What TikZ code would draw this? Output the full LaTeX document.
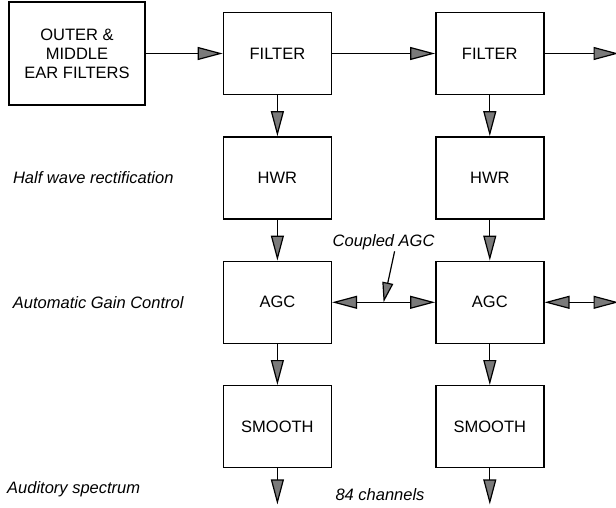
\documentclass[tikz,border=0pt]{standalone}
\usepackage{fontspec}
\setmainfont{Liberation Sans}
\usepackage{xcolor}
\usepackage{tikz}
\usetikzlibrary{positioning,arrows.meta,calc}
\definecolor{tipgrey}{HTML}{7A7A7A}
\newcommand{\boxfont}{\fontsize{16.5}{19}\selectfont}
\newcommand{\notefont}{\fontsize{16.5}{19}\selectfont\itshape}
\tikzset{
  blk/.style={rectangle, draw=black, line width=1.4pt, align=center,
              font=\boxfont, inner sep=2pt,
              minimum width=108pt, minimum height=82pt},
  note/.style={font=\notefont, inner sep=0pt},
  ar/.style={-{Triangle[length=25pt,width=13pt,fill=tipgrey]}, line width=1.2pt, draw=black},
  dar/.style={{Triangle[length=25pt,width=13pt,fill=tipgrey]}-{Triangle[length=25pt,width=13pt,fill=tipgrey]},
              line width=1.2pt, draw=black},
  ptr/.style={-{Triangle[length=20pt,width=11pt,fill=tipgrey]}, line width=1.2pt, draw=black},
}

\begin{document}
\begin{tikzpicture}
  \path[use as bounding box] (0,0) rectangle (616pt,-508pt);

  % first channel
  \node[blk, minimum width=136pt, minimum height=103pt] (ear) at (77pt,-53.5pt)
       {OUTER \&\\MIDDLE\\EAR FILTERS};
  \node[blk, right=77pt of ear] (f1) {FILTER};
  \node[blk, below=41pt of f1] (h1) {HWR};
  \node[blk, below=41pt of h1] (a1) {AGC};
  \node[blk, below=41pt of a1] (s1) {SMOOTH};

  % next channel
  \node[blk, right=103pt of f1] (f2) {FILTER};
  \node[blk, below=41pt of f2] (h2) {HWR};
  \node[blk, below=41pt of h2] (a2) {AGC};
  \node[blk, below=41pt of a2] (s2) {SMOOTH};

  \coordinate[right=74pt of f2] (f2out);
  \coordinate[right=74pt of a2] (a2out);
  \coordinate[below=36pt of s1] (s1out);
  \coordinate[below=36pt of s2] (s2out);
  \coordinate (jn) at ($(a1.east)!0.5!(a2.west)$);

  \draw[ar] (ear) -- (f1);
  \draw[ar] (f1) -- (f2);
  \draw[ar] (f2) -- (f2out);
  \draw[ar] (f1) -- (h1);
  \draw[ar] (h1) -- (a1);
  \draw[ar] (a1) -- (s1);
  \draw[ar] (s1) -- (s1out);
  \draw[ar] (f2) -- (h2);
  \draw[ar] (h2) -- (a2);
  \draw[ar] (a2) -- (s2);
  \draw[ar] (s2) -- (s2out);
  \draw[dar] (a1) -- (a2);
  \draw[dar] (a2) -- (a2out);

  % labels
  \node[note, left=49pt of h1] (lhwr) {Half wave rectification};
  \node[note, left=39pt of a1] (lagc) {Automatic Gain Control};
  \node[note, anchor=west] (lspec) at (7pt,-489pt) {Auditory spectrum};
  \node[note] (chan) at (380pt,-495pt) {84 channels};
  \node[note, above=52pt of jn] (cpl) {Coupled AGC};
  \coordinate (cplfoot) at ($(cpl.south)+(11pt,-1pt)$);
  \draw[ptr] (cplfoot) -- (jn);
\end{tikzpicture}
\end{document}
